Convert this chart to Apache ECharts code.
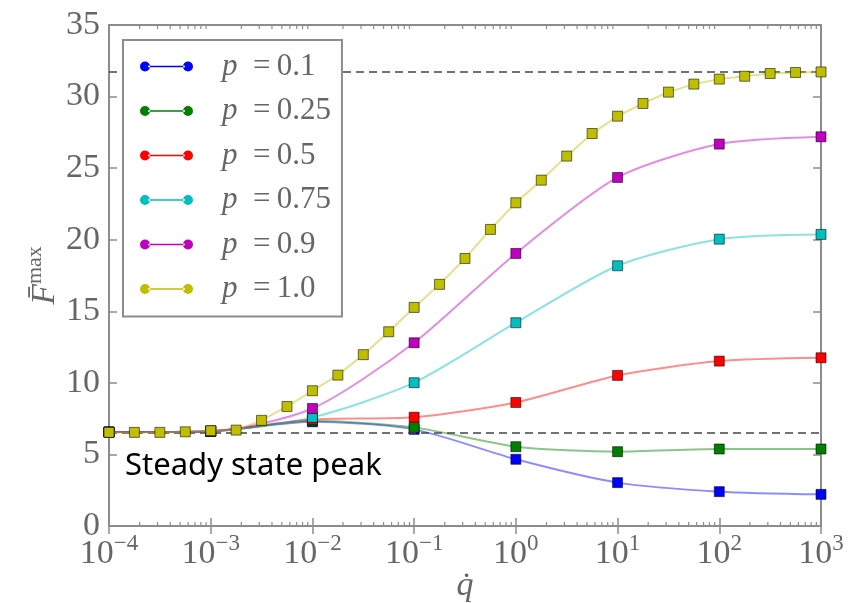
<!DOCTYPE html>
<html>
<head>
<meta charset="utf-8">
<script src="https://cdn.jsdelivr.net/npm/echarts@6/dist/echarts.min.js"></script>
<style>
  html, body { margin: 0; padding: 0; background: #fff; }
  #chart { width: 851px; height: 603px; }
</style>
</head>
<body>
<div id="chart"></div>
<script>
// Strain-rate sweep: peak value against loading rate for several p
const qDecades = [1e-4, 1e-3, 1e-2, 1e-1, 1, 10, 100, 1000];
const qQuarters = [
  1e-4, 1.778e-4, 3.162e-4, 5.623e-4,
  1e-3, 1.778e-3, 3.162e-3, 5.623e-3,
  1e-2, 1.778e-2, 3.162e-2, 5.623e-2,
  1e-1, 1.778e-1, 3.162e-1, 5.623e-1,
  1, 1.778, 3.162, 5.623,
  10, 17.78, 31.62, 56.23,
  100, 177.8, 316.2, 562.3,
  1000
];
const p01  = [6.56, 6.62, 7.28, 6.75, 4.66, 3.03, 2.40, 2.21];
const p025 = [6.56, 6.62, 7.35, 6.89, 5.54, 5.19, 5.38, 5.38];
const p05  = [6.56, 6.62, 7.45, 7.60, 8.63, 10.52, 11.52, 11.75];
const p075 = [6.56, 6.62, 7.59, 10.01, 14.20, 18.18, 20.04, 20.37];
const p09  = [6.56, 6.62, 8.21, 12.80, 19.04, 24.35, 26.68, 27.19];
const p10  = [6.54, 6.54, 6.54, 6.58, 6.66, 6.70, 7.38, 8.35,
              9.45, 10.54, 11.97, 13.57, 15.27, 16.88, 18.69, 20.72,
              22.58, 24.16, 25.84, 27.42, 28.63, 29.52, 30.31, 30.87,
              31.22, 31.42, 31.61, 31.68, 31.72];
const seriesNames = ['p = 0.1', 'p = 0.25', 'p = 0.5', 'p = 0.75', 'p = 0.9', 'p = 1.0'];
const seriesColors = ['#0000ff', '#007f00', '#ff0000', '#00bfbf', '#bf00bf', '#bfbf00'];
const steadyPeak = 6.54;
const plateauPeak = 31.72;
const yTicks = [0, 5, 10, 15, 20, 25, 30, 35];

const serif = '"Liberation Serif", "DejaVu Serif", serif';
const tickGrey = '#666';
const frameGrey = '#8c8c8c';

function pairs(xs, ys) { return xs.map((x, i) => [x, ys[i]]); }

// minor tick positions on the log axis (2..9 within each decade)
const minorTicks = [];
for (let d = -4; d < 3; d++) {
  for (let k = 2; k <= 9; k++) minorTicks.push([k * Math.pow(10, d)]);
}

const seriesValues = [p01, p025, p05, p075, p09];

const lineSeries = seriesValues.map((vals, i) => ({
  name: seriesNames[i],
  type: 'line',
  data: pairs(qDecades, vals),
  smooth: 0.25,
  symbol: 'rect',
  symbolSize: 10,
  z: 3 + i,
  color: seriesColors[i],
  itemStyle: { color: seriesColors[i], borderColor: 'rgba(0,0,0,0.55)', borderWidth: 1 },
  lineStyle: { color: seriesColors[i], width: 2, opacity: 0.45 },
  emphasis: { disabled: true }
}));

lineSeries.push({
  name: seriesNames[5],
  type: 'line',
  data: pairs(qQuarters, p10),
  symbol: 'rect',
  symbolSize: 10,
  z: 9,
  color: seriesColors[5],
  itemStyle: { color: seriesColors[5], borderColor: 'rgba(0,0,0,0.55)', borderWidth: 1 },
  lineStyle: { color: seriesColors[5], width: 2, opacity: 0.45 },
  emphasis: { disabled: true }
});

const option = {
  animation: false,
  backgroundColor: '#fff',
  grid: {
    left: 109, right: 30, top: 25, bottom: 77,
    outerBoundsMode: 'none',
    containLabel: false,
    show: true, borderColor: frameGrey, borderWidth: 2, backgroundColor: 'transparent'
  },
  legend: {
    data: seriesNames,
    orient: 'vertical',
    left: 123, top: 40,
    padding: [11, 11, 12, 17],
    itemGap: 13.5,
    itemWidth: 53, itemHeight: 10,
    icon: 'path://M0,5a5,5 0 1,0 10,0a5,5 0 1,0 -10,0z M8,4.3h37v1.4h-37z M43,5a5,5 0 1,0 10,0a5,5 0 1,0 -10,0z',
    itemStyle: { borderWidth: 0 },
    backgroundColor: '#fff',
    borderColor: frameGrey,
    borderWidth: 2,
    z: 20,
    formatter: name => '{it|p}\u2002=\u2009' + name.slice(4),
    textStyle: {
      fontFamily: serif, fontSize: 31, color: tickGrey, lineHeight: 30,
      padding: [0, 0, 0, 24],
      rich: { it: { fontFamily: serif, fontStyle: 'italic', fontSize: 31, color: tickGrey, lineHeight: 30 } }
    }
  },
  xAxis: [{
    type: 'log', logBase: 10, min: 1e-4, max: 1e3, splitNumber: 7,
    axisLine: { show: false },
    axisTick: { show: true, inside: true, length: 8, lineStyle: { color: frameGrey, width: 1.5 } },
    splitLine: { show: false },
    axisLabel: {
      margin: 11,
      verticalAlign: 'top',
      formatter: v => {
        const e = Math.round(Math.log10(v));
        return '{b|10}{s|' + (e < 0 ? '\u2212' : '') + Math.abs(e) + '}';
      },
      rich: {
        b: { fontFamily: serif, fontSize: 34, color: tickGrey, lineHeight: 34 },
        s: { fontFamily: serif, fontSize: 23, color: tickGrey, lineHeight: 23, padding: [0, 0, 20, 0] }
      }
    },
    name: 'q\u0307',
    nameLocation: 'middle',
    nameMoveOverlap: false,
    nameGap: 43,
    nameTextStyle: { fontFamily: serif, fontStyle: 'italic', fontSize: 34, color: tickGrey }
  }, {
    type: 'log', logBase: 10, min: 1e-4, max: 1e3, splitNumber: 7, position: 'top',
    axisLine: { show: false },
    axisTick: { show: true, inside: true, length: 8, lineStyle: { color: frameGrey, width: 1.5 } },
    axisLabel: { show: false },
    splitLine: { show: false }
  }],
  yAxis: [{
    type: 'value', min: 0, max: 35, interval: 5,
    axisLine: { show: false },
    axisTick: { show: true, inside: true, length: 8, lineStyle: { color: frameGrey, width: 1.5 } },
    splitLine: { show: false },
    axisLabel: {
      margin: 9, fontFamily: serif, fontSize: 34, color: tickGrey,
      formatter: v => (yTicks.indexOf(v) >= 0 ? String(v) : '')
    },
    name: '{f|F\u0304}{s|max}',
    nameLocation: 'middle',
    nameMoveOverlap: false,
    nameRotate: 90,
    nameGap: 47,
    nameTextStyle: {
      align: 'center',
      verticalAlign: 'bottom',
      rich: {
        f: { fontFamily: serif, fontStyle: 'italic', fontSize: 34, color: tickGrey, lineHeight: 34 },
        s: { fontFamily: serif, fontSize: 22, color: tickGrey, lineHeight: 22, padding: [0, 0, 20, 0] }
      }
    }
  }, {
    type: 'value', min: 0, max: 35, interval: 5, position: 'right',
    axisLine: { show: false },
    axisTick: { show: true, inside: true, length: 8, lineStyle: { color: frameGrey, width: 1.5 } },
    axisLabel: { show: false },
    splitLine: { show: false }
  }],
  graphic: [{
    type: 'text',
    left: 125, top: 451,
    z: 30,
    style: { text: 'Steady state peak', font: '31px "Noto Sans", sans-serif', fill: '#000' }
  }],
  series: [{
    name: 'minor ticks',
    type: 'custom',
    data: minorTicks,
    z: 1,
    silent: true,
    clip: false,
    renderItem: (params, api) => {
      const x = api.value(0);
      const b = api.coord([x, 0]);
      const t = api.coord([x, 35]);
      const st = { stroke: frameGrey, lineWidth: 1.2 };
      return {
        type: 'group',
        children: [
          { type: 'line', shape: { x1: b[0], y1: b[1], x2: b[0], y2: b[1] - 4 }, style: st },
          { type: 'line', shape: { x1: t[0], y1: t[1], x2: t[0], y2: t[1] + 4 }, style: st }
        ]
      };
    }
  }, {
    name: 'reference levels',
    type: 'line',
    data: [],
    z: 2,
    markLine: {
      silent: true,
      symbol: 'none',
      label: { show: false },
      lineStyle: { color: '#444', width: 1.5, type: [8, 5] },
      data: [{ yAxis: steadyPeak }, { yAxis: plateauPeak }]
    }
  }].concat(lineSeries)
};

const chart = echarts.init(document.getElementById('chart'), null, { renderer: 'canvas' });
chart.setOption(option);
</script>
</body>
</html>
